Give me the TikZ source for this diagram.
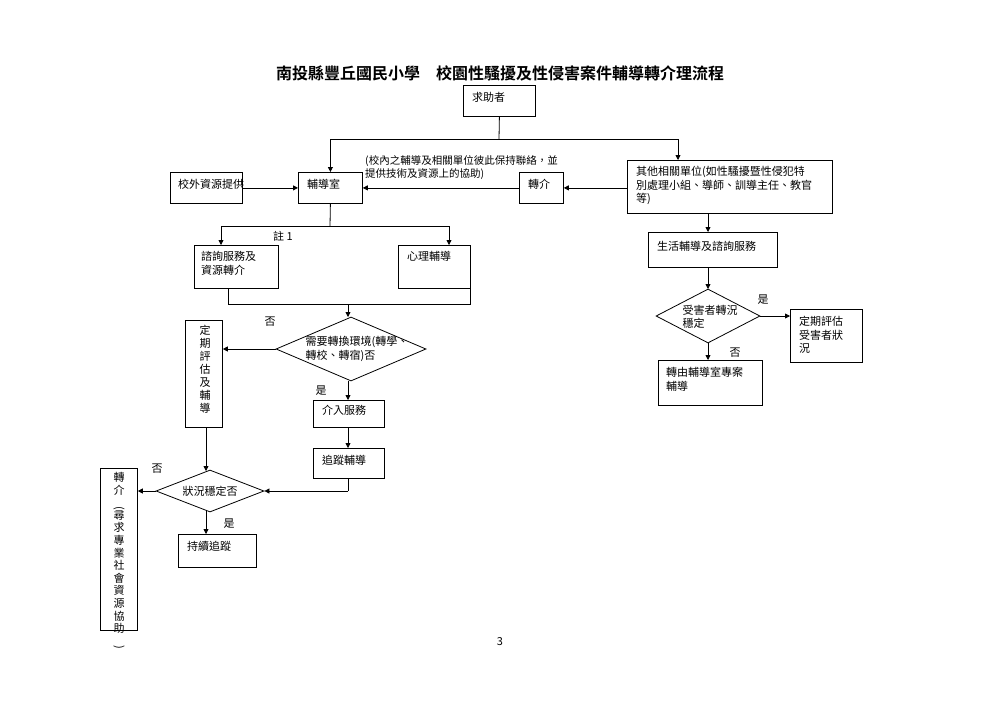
\documentclass[tikz,border=0pt]{standalone}
\usepackage{fontspec}
\setmainfont{Noto Sans CJK TC}[BoldFont={Noto Sans CJK TC Bold}]
\usetikzlibrary{arrows.meta,shapes.geometric}
\begin{document}
\begin{tikzpicture}[x=1pt,y=-1pt,
  box/.style={draw,line width=0.8pt,anchor=north west,inner sep=0pt},
  txt/.style={font=\fontsize{11}{13.5}\selectfont,align=left,anchor=north west,inner sep=0pt},
  dia/.style={draw,line width=0.8pt,diamond,inner sep=0pt},
  lbl/.style={font=\fontsize{11}{13}\selectfont,inner sep=0pt},
  ar/.style={line width=0.8pt,-{Triangle[length=5pt,width=5pt]}},
  ln/.style={line width=0.8pt}]
\useasboundingbox (0,0) rectangle (1000,707);
\node[font=\bfseries\fontsize{16}{18}\selectfont] (title) at (500,73) {南投縣豐丘國民小學\quad 校園性騷擾及性侵害案件輔導轉介理流程};
% boxes
\node[box,minimum width=72pt,minimum height=31pt] (seek) at (463,85) {};
\node[txt] at (472,92) {求助者};
\node[box,minimum width=72pt,minimum height=31pt] (ext) at (170,172) {};
\node[txt] at (178,179) {校外資源提供};
\node[box,minimum width=64pt,minimum height=31pt] (couns) at (298,172) {};
\node[txt] at (307,179) {輔導室};
\node[txt,font=\fontsize{10.5}{13}\selectfont] (note) at (365,155) {(校內之輔導及相關單位彼此保持聯絡，並\\提供技術及資源上的協助)};
\node[box,minimum width=44pt,minimum height=31pt] (ref) at (519,172) {};
\node[txt] at (528,179) {轉介};
\node[box,minimum width=205pt,minimum height=53pt] (other) at (627,160) {};
\node[txt] at (636,166) {其他相關單位(如性騷擾暨性侵犯特\\別處理小組、導師、訓導主任、教官\\等)};
\node[box,minimum width=84pt,minimum height=43pt] (consult) at (194,245) {};
\node[txt] at (201,251) {諮詢服務及\\資源轉介};
\node[box,minimum width=72pt,minimum height=43pt] (psy) at (398,245) {};
\node[txt] at (407,251) {心理輔導};
\node[lbl] (n1) at (283,236) {註 1};
\node[dia,minimum width=150pt,minimum height=64pt] (need) at (351,349) {};
\node[txt,anchor=center] at (357,349) {需要轉換環境(轉學、\\轉校、轉宿)否};
\node[box,minimum width=37pt,minimum height=107pt] (eval) at (185,320) {};
\node[txt,anchor=north,align=center,font=\fontsize{11}{13}\selectfont] at (205,325) {定\\期\\評\\估\\及\\輔\\導};
\node[box,minimum width=71pt,minimum height=27pt] (interv) at (313,400) {};
\node[txt] at (322,405) {介入服務};
\node[box,minimum width=71pt,minimum height=30pt] (track) at (313,448) {};
\node[txt] at (322,455) {追蹤輔導};
\node[dia,minimum width=108pt,minimum height=42pt] (stable) at (210,491) {};
\node[lbl] at (210,491) {狀況穩定否};
\node[box,minimum width=37pt,minimum height=162pt] (refer2) at (100,468) {};
\node[txt,anchor=north,align=center,font=\fontsize{11}{12.6}\selectfont] at (119,472) {轉\\介\\\rotatebox{-90}{(}\\尋\\求\\專\\業\\社\\會\\資\\源\\協\\助\\\rotatebox{-90}{)}};
\node[box,minimum width=78pt,minimum height=33pt] (cont) at (178,534) {};
\node[txt] at (187,541) {持續追蹤};
\node[box,minimum width=129pt,minimum height=35pt] (life) at (648,232) {};
\node[txt] at (657,241) {生活輔導及諮詢服務};
\node[dia,minimum width=104pt,minimum height=54pt] (victim) at (708,316) {};
\node[txt,anchor=center] at (710,317) {受害者轉況\\穩定};
\node[box,minimum width=72pt,minimum height=53pt] (per) at (790,309) {};
\node[txt] at (799,316) {定期評估\\受害者狀\\況};
\node[box,minimum width=104pt,minimum height=45pt] (proj) at (658,360) {};
\node[txt] at (666,367) {轉由輔導室專案\\輔導};
\node[lbl] (pg) at (500,642) {3};
% labels
\node[lbl] (no1) at (270,322) {否};
\node[lbl] (yes1) at (321,391) {是};
\node[lbl] (no2) at (157,469) {否};
\node[lbl] (yes2) at (229,524) {是};
\node[lbl] (yes3) at (763,300) {是};
\node[lbl] (no3) at (735,353) {否};
% coordinates
\coordinate (s1) at (499,139);
\coordinate (c1) at (330,226);
\coordinate (b1) at (228,304);
\coordinate (b2) at (470,304);
\coordinate (t1) at (348,491);
% connectors
\draw[ln] (seek.south) -- (s1);
\draw[ar] (s1) -| (couns.north);
\draw[ar] (s1) -| (678,160);
\draw[ar] (ext.east) -- (couns.west);
\draw[ar] (other.west |- ref.east) -- (ref.east);
\draw[ar] (ref.west) -- (couns.east);
\draw[ln] (couns.south) -- (c1);
\draw[ar] (c1) -| (221,245);
\draw[ar] (c1) -| (449,245);
\draw[ln] (228,288) -- (b1) -- (b2) -- (470,288);
\draw[ar] (348,304) -- (348,317);
\draw[ar] (need.west) -- (eval.east |- need.west);
\draw[ar] (348,381) -- (interv.north -| 348,0);
\draw[ar] (348,427) -- (348,448);
\draw[ln] (348,478) -- (t1);
\draw[ar] (t1) -- (stable.east);
\draw[ar] (206,427) -- (206,471);
\draw[ar] (stable.west) -- (refer2.east |- stable.west);
\draw[ar] (206,511) -- (206,534);
\draw[ar] (708,213) -- (708,232);
\draw[ar] (708,267) -- (708,289);
\draw[ar] (victim.east) -- (per.west |- victim.east);
\draw[ar] (708,343) -- (708,360);
\end{tikzpicture}
\end{document}
